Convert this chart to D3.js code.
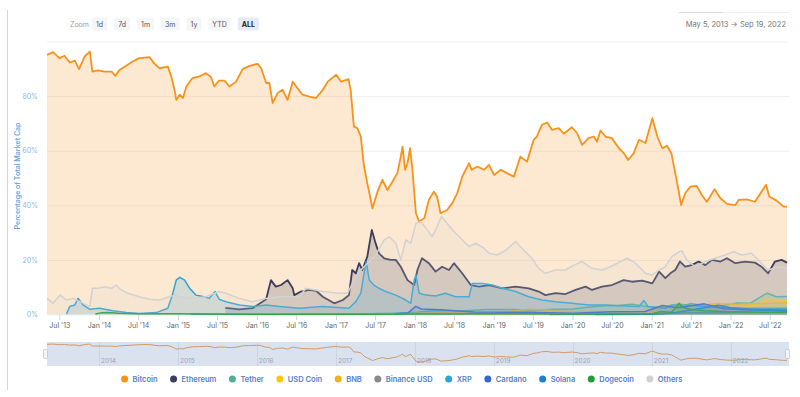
<!DOCTYPE html>
<html lang="en">
<head>
<meta charset="utf-8">
<title>market cap dominance</title>
<script src="https://cdn.jsdelivr.net/npm/d3@7"></script>
<style>
body { margin: 0; background: #fff; }
svg { display: block; font-family: Inter, "Open Sans", sans-serif; }
</style>
</head>
<body>
<script>

// share of total market cap, percent
var bitcoin = [["2013-05-05",95.1],["2013-06-02",96.1],["2013-07-02",93.9],["2013-07-25",94.8],["2013-08-18",92.3],["2013-09-11",93.0],["2013-09-30",89.9],["2013-10-26",94.5],["2013-11-19",96.3],["2013-12-01",89.0],["2013-12-27",89.4],["2014-01-27",89.0],["2014-02-28",89.0],["2014-03-17",87.4],["2014-04-06",89.6],["2014-05-06",91.1],["2014-06-06",92.7],["2014-07-06",93.9],["2014-08-22",94.3],["2014-09-15",91.8],["2014-10-08",90.2],["2014-11-15",90.8],["2014-12-01",87.2],["2014-12-16",82.3],["2014-12-24",78.6],["2015-01-09",80.5],["2015-01-24",79.3],["2015-02-09",83.5],["2015-03-09",86.6],["2015-04-10",87.2],["2015-05-10",88.4],["2015-06-03",87.0],["2015-06-18",83.5],["2015-07-10",85.7],["2015-08-04",85.7],["2015-08-27",83.5],["2015-09-27",85.3],["2015-10-27",89.9],["2015-11-28",91.1],["2016-01-05",91.8],["2016-01-21",90.2],["2016-02-13",84.8],["2016-02-28",84.8],["2016-03-14",77.4],["2016-04-06",81.1],["2016-04-29",82.3],["2016-05-22",78.6],["2016-06-15",85.3],["2016-07-07",82.9],["2016-07-30",80.5],["2016-08-31",79.8],["2016-10-01",79.3],["2016-11-01",82.3],["2016-11-24",85.3],["2017-01-02",87.8],["2017-01-25",85.3],["2017-02-28",86.2],["2017-03-10",82.3],["2017-03-25",68.8],["2017-04-10",68.3],["2017-04-26",65.2],["2017-05-11",54.2],["2017-05-26",48.1],["2017-06-19",38.9],["2017-07-12",45.0],["2017-08-04",49.3],["2017-08-27",45.6],["2017-09-20",48.7],["2017-10-12",51.8],["2017-10-28",57.8],["2017-11-05",61.5],["2017-11-17",53.0],["2017-11-28",55.4],["2017-12-10",60.9],["2017-12-21",53.0],["2018-01-06",37.1],["2018-01-21",34.0],["2018-02-14",35.3],["2018-03-07",42.0],["2018-03-30",45.0],["2018-04-14",43.2],["2018-04-30",37.1],["2018-05-30",38.3],["2018-06-23",40.8],["2018-07-16",44.4],["2018-08-08",50.5],["2018-09-09",55.4],["2018-09-21",53.0],["2018-10-17",54.2],["2018-11-17",53.0],["2018-12-10",54.8],["2019-01-03",51.1],["2019-02-03",53.0],["2019-03-03",51.8],["2019-04-04",50.5],["2019-05-04",57.8],["2019-06-04",56.0],["2019-07-05",64.0],["2019-07-20",65.2],["2019-08-05",68.3],["2019-08-13",69.5],["2019-09-05",70.3],["2019-09-28",67.6],["2019-10-29",68.3],["2019-11-21",66.2],["2019-12-29",68.6],["2020-01-22",66.4],["2020-02-14",62.1],["2020-03-15",64.6],["2020-04-08",65.2],["2020-04-23",63.3],["2020-05-09",67.4],["2020-06-01",65.2],["2020-07-01",64.6],["2020-08-02",60.9],["2020-08-25",59.1],["2020-09-14",56.6],["2020-10-10",59.1],["2020-11-03",64.0],["2020-12-03",62.8],["2021-01-04",71.9],["2021-01-27",65.2],["2021-02-19",60.9],["2021-03-12",61.8],["2021-04-02",59.1],["2021-04-20",51.8],["2021-05-05",45.6],["2021-05-17",40.1],["2021-06-05",44.4],["2021-06-28",46.8],["2021-07-28",47.1],["2021-08-21",43.8],["2021-09-13",41.3],["2021-10-19",45.9],["2021-11-15",42.6],["2021-12-15",40.5],["2022-01-23",40.1],["2022-02-08",42.0],["2022-03-16",42.2],["2022-04-24",41.3],["2022-05-24",45.0],["2022-06-14",47.5],["2022-06-29",43.2],["2022-08-02",41.7],["2022-09-03",39.5],["2022-09-19",39.5]];

var ethereum = [["2015-08-08",2.4],["2015-10-12",1.9],["2015-12-12",2.3],["2016-02-13",5.6],["2016-03-06",12.6],["2016-03-29",10.2],["2016-04-22",10.8],["2016-05-22",12.6],["2016-06-15",9.6],["2016-06-22",7.1],["2016-07-23",8.4],["2016-08-31",9.0],["2016-10-01",8.7],["2016-11-01",6.5],["2016-12-24",4.1],["2017-02-02",5.3],["2017-03-02",7.1],["2017-03-17",16.3],["2017-04-03",15.1],["2017-04-18",18.8],["2017-05-03",16.3],["2017-05-26",21.2],["2017-06-16",31.0],["2017-07-01",26.7],["2017-07-19",22.4],["2017-08-12",20.6],["2017-09-12",20.0],["2017-10-05",20.0],["2017-10-28",17.5],["2017-11-28",12.6],["2017-12-29",10.8],["2018-01-13",16.3],["2018-02-03",20.6],["2018-03-07",18.8],["2018-04-07",15.7],["2018-05-07",17.5],["2018-06-08",16.3],["2018-07-01",18.8],["2018-08-08",15.1],["2018-09-17",10.8],["2018-10-25",10.2],["2018-12-10",10.8],["2019-02-10",9.6],["2019-04-12",10.2],["2019-06-12",9.6],["2019-07-28",8.4],["2019-08-28",7.1],["2019-10-14",7.8],["2019-11-29",7.5],["2020-01-15",9.0],["2020-03-01",10.2],["2020-03-31",9.0],["2020-05-16",10.2],["2020-07-01",10.8],["2020-08-24",12.6],["2020-10-02",12.0],["2020-11-18",12.4],["2021-01-04",11.4],["2021-02-04",15.7],["2021-03-05",13.3],["2021-03-28",15.1],["2021-04-20",16.3],["2021-05-12",19.4],["2021-06-05",17.5],["2021-07-05",18.1],["2021-08-06",19.4],["2021-09-06",18.1],["2021-10-07",20.0],["2021-11-15",19.4],["2021-12-15",20.6],["2022-01-23",18.8],["2022-03-09",19.4],["2022-04-24",19.0],["2022-05-24",17.5],["2022-06-24",15.1],["2022-07-25",19.4],["2022-08-25",20.0],["2022-09-19",19.0]];

var tether = [["2015-03-01",0.05],["2017-03-01",0.2],["2017-10-01",0.5],["2018-01-15",0.8],["2018-04-01",1.5],["2018-08-01",1.3],["2018-12-01",1.8],["2019-04-01",1.8],["2019-07-01",1.5],["2019-10-01",1.9],["2020-01-01",2.0],["2020-04-01",2.8],["2020-06-01",3.2],["2020-08-01",3.3],["2020-10-01",3.8],["2020-12-01",3.0],["2021-02-01",2.6],["2021-05-15",2.8],["2021-07-01",4.0],["2021-09-01",3.2],["2021-12-01",3.4],["2022-02-01",4.2],["2022-04-01",4.1],["2022-06-01",7.0],["2022-06-20",7.8],["2022-08-01",6.5],["2022-09-19",6.6]];

var usdCoin = [["2018-10-01",0.1],["2019-06-01",0.2],["2020-06-01",0.3],["2020-12-01",0.5],["2021-05-01",1.0],["2021-07-01",1.7],["2021-12-01",2.0],["2022-03-01",2.6],["2022-05-15",3.8],["2022-06-15",5.6],["2022-09-19",5.2]];

var bnb = [["2017-08-01",0.1],["2018-01-01",0.5],["2018-06-01",0.8],["2019-01-01",0.5],["2019-06-15",1.9],["2019-12-01",1.2],["2020-06-01",1.0],["2020-12-01",1.0],["2021-02-15",2.5],["2021-05-05",4.0],["2021-07-01",3.0],["2021-11-01",4.0],["2022-02-01",3.8],["2022-06-01",4.0],["2022-09-19",4.3]];

var binanceUsd = [["2019-09-15",0.01],["2020-06-01",0.05],["2021-01-01",0.2],["2021-06-01",0.6],["2021-12-01",0.6],["2022-06-01",1.9],["2022-09-19",2.0]];

var xrp = [["2013-08-03",0.2],["2013-08-18",2.9],["2013-09-11",3.5],["2013-09-26",5.9],["2013-10-19",3.5],["2013-11-19",1.9],["2014-01-04",2.3],["2014-03-05",1.4],["2014-05-06",0.7],["2014-07-06",0.4],["2014-09-23",0.7],["2014-11-15",2.3],["2014-12-06",7.1],["2014-12-24",12.6],["2015-01-09",13.6],["2015-02-01",12.6],["2015-02-24",9.6],["2015-03-25",7.1],["2015-05-02",6.5],["2015-05-25",5.9],["2015-06-22",8.4],["2015-07-10",5.6],["2015-08-11",4.7],["2015-10-12",3.5],["2015-12-12",2.9],["2016-02-13",3.5],["2016-04-14",2.9],["2016-07-15",2.3],["2016-11-01",2.9],["2017-03-02",2.3],["2017-04-03",4.7],["2017-04-26",7.8],["2017-05-11",15.1],["2017-05-21",19.4],["2017-06-04",12.6],["2017-06-26",10.8],["2017-07-19",9.6],["2017-08-19",8.4],["2017-10-05",7.1],["2017-11-20",5.3],["2017-12-13",4.1],["2017-12-29",12.6],["2018-01-06",14.5],["2018-01-21",7.8],["2018-02-21",7.1],["2018-04-07",6.8],["2018-05-23",7.8],["2018-07-08",6.5],["2018-09-09",6.5],["2018-09-24",11.4],["2018-11-09",11.4],["2018-12-25",10.8],["2019-02-10",9.6],["2019-04-12",8.4],["2019-06-12",6.5],["2019-08-13",5.3],["2019-10-14",4.7],["2019-12-29",4.1],["2020-03-15",3.5],["2020-06-01",3.5],["2020-08-17",3.2],["2020-11-03",2.9],["2020-11-26",5.1],["2020-12-15",2.9],["2021-03-05",2.3],["2021-04-04",3.5],["2021-06-05",3.5],["2021-09-06",2.9],["2021-12-07",2.5],["2022-03-09",2.3],["2022-06-10",2.3],["2022-09-19",2.3]];

var cardano = [["2017-10-01",0.3],["2017-12-01",0.6],["2018-01-05",3.0],["2018-02-01",2.0],["2018-05-01",1.7],["2018-10-01",0.9],["2019-06-01",0.8],["2020-01-01",0.5],["2020-07-01",1.0],["2020-12-01",1.1],["2021-02-20",3.3],["2021-05-01",2.5],["2021-09-01",3.9],["2021-12-01",2.1],["2022-04-01",1.8],["2022-09-19",1.6]];

var solana = [["2020-04-15",0.01],["2020-12-01",0.1],["2021-04-01",0.5],["2021-09-01",2.5],["2021-11-05",3.4],["2022-01-01",2.5],["2022-04-01",1.8],["2022-09-19",1.2]];

var dogecoin = [["2013-12-15",0.2],["2014-01-10",0.6],["2014-02-10",0.7],["2014-04-01",0.5],["2014-07-01",0.3],["2015-01-01",0.25],["2015-07-01",0.15],["2016-01-01",0.1],["2016-07-01",0.05],["2017-01-01",0.05],["2017-06-01",0.1],["2018-01-08",0.2],["2018-06-01",0.15],["2019-01-01",0.3],["2019-07-01",0.25],["2020-01-01",0.2],["2020-07-01",0.15],["2021-01-05",0.3],["2021-01-29",0.8],["2021-02-10",1.1],["2021-04-01",0.8],["2021-04-20",2.3],["2021-05-08",4.1],["2021-05-25",2.6],["2021-07-01",1.9],["2021-09-01",1.4],["2021-11-01",1.2],["2022-01-01",0.9],["2022-04-01",0.9],["2022-06-01",0.8],["2022-09-19",0.8]];

var others = [["2013-05-05",5.9],["2013-06-02",4.1],["2013-07-05",7.1],["2013-08-03",5.3],["2013-09-03",5.9],["2013-10-04",4.7],["2013-11-19",2.9],["2013-12-01",9.6],["2013-12-27",9.6],["2014-01-27",10.2],["2014-02-28",9.6],["2014-03-21",10.8],["2014-04-13",9.0],["2014-05-13",7.8],["2014-07-06",6.5],["2014-08-22",5.6],["2014-10-08",5.3],["2014-11-23",6.5],["2014-12-16",7.1],["2015-01-09",6.5],["2015-03-09",5.9],["2015-05-10",6.5],["2015-07-10",8.4],["2015-08-11",7.8],["2015-10-12",5.9],["2015-12-12",4.7],["2016-02-13",5.9],["2016-04-14",6.5],["2016-07-15",6.5],["2016-08-15",9.6],["2016-11-01",8.4],["2017-01-17",7.8],["2017-02-24",7.8],["2017-03-25",12.6],["2017-04-26",16.3],["2017-06-04",19.4],["2017-07-04",21.8],["2017-08-12",27.3],["2017-09-05",28.5],["2017-10-05",26.1],["2017-10-28",20.0],["2017-11-20",27.3],["2017-12-13",26.1],["2018-01-06",33.4],["2018-01-29",34.0],["2018-02-28",31.0],["2018-03-22",28.5],["2018-04-14",32.2],["2018-05-04",35.9],["2018-05-30",33.4],["2018-07-01",30.4],["2018-08-01",27.9],["2018-09-09",24.9],["2018-10-10",26.1],["2018-11-17",24.3],["2018-12-10",22.4],["2019-01-18",21.8],["2019-02-26",23.6],["2019-04-12",26.7],["2019-05-12",24.3],["2019-06-27",20.6],["2019-07-28",16.9],["2019-08-28",15.1],["2019-10-14",16.3],["2019-11-29",16.3],["2020-01-07",18.1],["2020-02-14",19.4],["2020-03-31",16.9],["2020-05-16",16.3],["2020-06-24",17.5],["2020-08-10",19.4],["2020-09-09",20.6],["2020-10-18",18.8],["2020-12-03",15.1],["2021-01-04",14.5],["2021-02-04",16.3],["2021-03-05",17.5],["2021-04-04",21.2],["2021-04-27",22.4],["2021-05-20",23.4],["2021-06-13",20.0],["2021-07-21",17.5],["2021-09-06",19.4],["2021-10-22",20.6],["2021-12-07",21.8],["2022-01-15",23.0],["2022-02-22",21.8],["2022-04-08",22.4],["2022-05-09",20.0],["2022-06-24",16.3],["2022-08-10",17.5],["2022-09-19",16.9]];

var seriesNames = ["Bitcoin", "Ethereum", "Tether", "USD Coin", "BNB", "Binance USD", "XRP", "Cardano", "Solana", "Dogecoin", "Others"];
var seriesData = [bitcoin, ethereum, tether, usdCoin, bnb, binanceUsd, xrp, cardano, solana, dogecoin, others];
var seriesColors = ["#f7931a", "#3c3c5d", "#50af95", "#f9c80e", "#f0b020", "#8a8a8a", "#2ea3d8", "#3468d1", "#1a7fd4", "#1f9e3a", "#d2d2d2"];

var yTicks = [0, 20, 40, 60, 80, 100];
var xTickDates = ["2013-07-01","2014-01-01","2014-07-01","2015-01-01","2015-07-01","2016-01-01","2016-07-01","2017-01-01","2017-07-01","2018-01-01","2018-07-01","2019-01-01","2019-07-01","2020-01-01","2020-07-01","2021-01-01","2021-07-01","2022-01-01","2022-07-01"];
var navYears = ["2014","2015","2016","2017","2018","2019","2020","2021","2022"];
var zoomButtons = ["1d", "7d", "1m", "3m", "1y", "YTD", "ALL"];
var startLabel = "May 5, 2013", endLabel = "Sep 19, 2022";

var width = 800, height = 397;
var parse = d3.timeParse("%Y-%m-%d");

var svg = d3.select("body").append("svg")
    .attr("width", width)
    .attr("height", height);

// left border line of the card
svg.append("line").attr("x1", 7.5).attr("x2", 7.5).attr("y1", 10).attr("y2", 390)
    .attr("stroke", "#d4d4d4");

var x = d3.scaleTime()
    .domain([parse("2013-05-05"), parse("2022-09-19")])
    .range([47, 787]);
var y = d3.scaleLinear().domain([0, 100]).range([314.5, 41.5]);

// grid
svg.append("g").selectAll("line")
    .data(yTicks)
    .enter().append("line")
    .attr("x1", 47).attr("x2", 789)
    .attr("y1", function(d) { return y(d) + 0.5; })
    .attr("y2", function(d) { return y(d) + 0.5; })
    .attr("stroke", "#f0f0f0");

// y axis
var yAxis = svg.append("g")
    .attr("transform", "translate(40,0)")
    .call(d3.axisLeft(y).tickValues(yTicks.slice(0, 5)).tickSize(0).tickFormat(function(d) { return d + "%"; }));
yAxis.select(".domain").remove();
yAxis.selectAll("text").attr("fill", "#8cb8ec").attr("font-size", 7).attr("font-family", "Inter, sans-serif").attr("dx", 1);

svg.append("text")
    .attr("transform", "translate(20,176) rotate(-90)")
    .attr("text-anchor", "middle")
    .attr("fill", "#6aa6e4")
    .attr("font-size", 7)
    .attr("font-weight", 600)
    .text("Percentage of Total Market Cap");

// x axis
var xAxis = svg.append("g")
    .attr("transform", "translate(0," + 315 + ")")
    .call(d3.axisBottom(x)
        .tickValues(xTickDates.map(parse))
        .tickSize(5)
        .tickPadding(3)
        .tickFormat(d3.timeFormat("%b '%y")));
xAxis.select(".domain").remove();
xAxis.selectAll("line").attr("stroke", "#ccd6eb");
xAxis.selectAll("text").attr("fill", "#666").attr("font-size", 7).attr("font-family", "Inter, sans-serif");

// series
var area = d3.area()
    .x(function(d) { return x(parse(d[0])); })
    .y0(y(0))
    .y1(function(d) { return y(d[1]); });
var line = d3.line()
    .x(function(d) { return x(parse(d[0])); })
    .y(function(d) { return y(d[1]); });

var series = svg.append("g").selectAll("g")
    .data(seriesData)
    .enter().append("g");

series.append("path")
    .attr("d", area)
    .attr("fill", function(d, i) { return seriesColors[i]; })
    .attr("fill-opacity", function(d, i) { return i == 10 ? 0.18 : 0.2; });

series.append("path")
    .attr("d", line)
    .attr("fill", "none")
    .attr("stroke", function(d, i) { return seriesColors[i]; })
    .attr("stroke-width", function(d, i) { return i < 2 ? 1.8 : 1.5; })
    .attr("stroke-linejoin", "round");

// navigator
var navTop = 342, navBottom = 366;
svg.append("rect")
    .attr("x", 47).attr("y", navTop)
    .attr("width", 742).attr("height", navBottom - navTop)
    .attr("fill", "#dbe2ef");

var navY = d3.scaleLinear()
    .domain(d3.extent(bitcoin, function(d) { return d[1]; }))
    .range([362, 344]);

var nav = svg.append("g");
nav.selectAll("line")
    .data(navYears)
    .enter().append("line")
    .attr("x1", function(d) { return Math.round(x(parse(d + "-01-01"))) + 0.5; })
    .attr("x2", function(d) { return Math.round(x(parse(d + "-01-01"))) + 0.5; })
    .attr("y1", navTop).attr("y2", navBottom)
    .attr("stroke", "#ccd4e4");
nav.selectAll("text")
    .data(navYears)
    .enter().append("text")
    .attr("x", function(d) { return x(parse(d + "-01-01")) + 2; })
    .attr("y", 363)
    .attr("fill", "#9aa3b5")
    .attr("font-size", 6.5)
    .text(function(d) { return d; });

nav.append("path")
    .datum(bitcoin)
    .attr("d", d3.line()
        .x(function(d) { return x(parse(d[0])); })
        .y(function(d) { return navY(d[1]); }))
    .attr("fill", "none")
    .attr("stroke", "#d09a6a")
    .attr("stroke-width", 1);

[45, 787].forEach(function(hx) {
    nav.append("rect")
        .attr("x", hx - 1.5).attr("y", 349.5)
        .attr("width", 4).attr("height", 9)
        .attr("rx", 1)
        .attr("fill", "#f4f4f4")
        .attr("stroke", "#b8b8b8")
        .attr("stroke-width", 0.6);
});

// zoom buttons
var header = svg.append("g");
header.append("text").attr("x", 70).attr("y", 26.5)
    .attr("fill", "#9a9a9a").attr("font-size", 7).text("Zoom");

var bx = 92;
zoomButtons.forEach(function(b) {
    var g = header.append("g");
    var t = g.append("text")
        .attr("y", 26.5)
        .attr("font-size", 7)
        .attr("font-weight", b == "ALL" ? 700 : 400)
        .attr("fill", b == "ALL" ? "#222" : "#555")
        .attr("text-anchor", "middle")
        .text(b);
    var w = t.node().getComputedTextLength() + 8;
    g.insert("rect", "text")
        .attr("x", bx).attr("y", 17.5)
        .attr("width", w).attr("height", 13)
        .attr("rx", 2)
        .attr("fill", b == "ALL" ? "#e6ebf5" : "#f5f6f8");
    t.attr("x", bx + w / 2);
    bx += w + 7;
});

// date range
header.append("line").attr("x1", 679).attr("x2", 789).attr("y1", 12.5).attr("y2", 12.5).attr("stroke", "#eeeeee");
header.append("line").attr("x1", 679).attr("x2", 723).attr("y1", 12.5).attr("y2", 12.5).attr("stroke", "#dcdcdc");
header.append("text")
    .attr("x", 786).attr("y", 26.5)
    .attr("text-anchor", "end")
    .attr("fill", "#777")
    .attr("font-size", 7.5)
    .text(startLabel + "  \u2192  " + endLabel);

// legend
var legend = svg.append("g").attr("transform", "translate(0,379)");
var items = legend.selectAll("g")
    .data(seriesNames)
    .enter().append("g");
items.append("circle")
    .attr("r", 3.5)
    .attr("fill", function(d, i) { return seriesColors[i]; });
items.append("text")
    .attr("x", 8)
    .attr("dy", "0.35em")
    .attr("font-size", 7.5)
    .attr("font-weight", 600)
    .attr("fill", "#5a7dc4")
    .text(function(d) { return d; });

var widths = [];
items.select("text").each(function() { widths.push(this.getComputedTextLength() + 8 + 16); });
var total = d3.sum(widths) - 16;
var lx = 400 - total / 2 + 3.5;
items.attr("transform", function(d, i) {
    var p = lx;
    lx += widths[i];
    return "translate(" + p + ",0)";
});

</script>
</body>
</html>
